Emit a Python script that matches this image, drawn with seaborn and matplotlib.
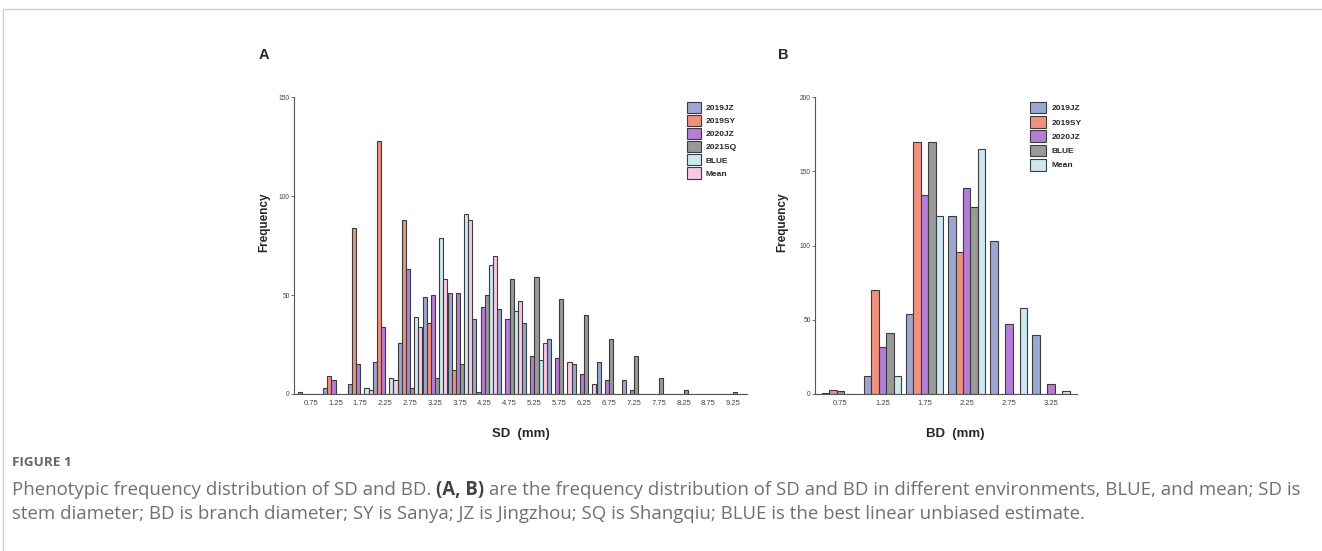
import matplotlib
matplotlib.use("Agg")
import matplotlib.pyplot as plt
import seaborn as sns
import pandas as pd

# ---- data ----
sd_bins = ["0.75", "1.25", "1.75", "2.25", "2.75", "3.25", "3.75", "4.25", "4.75",
           "5.25", "5.75", "6.25", "6.75", "7.25", "7.75", "8.25", "8.75", "9.25"]
sd_2019JZ = [1, 3, 5, 16, 26, 49, 51, 38, 43, 36, 28, 15, 16, 7, 0, 0, 0, 0]
sd_2019SY = [0, 9, 84, 128, 88, 36, 12, 1, 0, 0, 0, 0, 0, 0, 0, 0, 0, 0]
sd_2020JZ = [0, 7, 15, 34, 63, 50, 51, 44, 38, 19, 18, 10, 7, 2, 0, 0, 0, 0]
sd_2021SQ = [0, 0, 0, 0, 3, 8, 15, 50, 58, 59, 48, 40, 28, 19, 8, 2, 0, 1]
sd_BLUE = [0, 0, 3, 8, 39, 79, 91, 65, 42, 17, 0, 0, 0, 0, 0, 0, 0, 0]
sd_Mean = [0, 0, 2, 7, 34, 58, 88, 70, 47, 26, 16, 5, 0, 0, 0, 0, 0, 0]

bd_bins = ["0.75", "1.25", "1.75", "2.25", "2.75", "3.25"]
bd_2019JZ = [1, 12, 54, 120, 103, 40]
bd_2019SY = [3, 70, 170, 96, 0, 0]
bd_2020JZ = [2, 32, 134, 139, 47, 7]
bd_BLUE = [0, 41, 170, 126, 0, 0]
bd_Mean = [0, 12, 120, 165, 58, 2]

c_jz19 = "#9da6d0"
c_sy19 = "#f0907f"
c_jz20 = "#b57dd6"
c_gray = "#999999"
c_cyan = "#cde8ee"
c_pink = "#f7c8e3"


def long_table(bins, series):
    rows = []
    for name, vals in series.items():
        for b, v in zip(bins, vals):
            rows.append({"bin": b, "count": v, "env": name})
    return pd.DataFrame(rows)


sd_series = {"2019JZ": sd_2019JZ, "2019SY": sd_2019SY, "2020JZ": sd_2020JZ,
             "2021SQ": sd_2021SQ, "BLUE": sd_BLUE, "Mean": sd_Mean}
bd_series = {"2019JZ": bd_2019JZ, "2019SY": bd_2019SY, "2020JZ": bd_2020JZ,
             "BLUE": bd_BLUE, "Mean": bd_Mean}
sd_df = long_table(sd_bins, sd_series)
bd_df = long_table(bd_bins, bd_series)

sns.set_style("white")
plt.rcParams["font.family"] = ["Liberation Sans", "DejaVu Sans"]

W, H = 1322, 551
fig = plt.figure(figsize=(W / 100, H / 100), dpi=100)


def px_axes(x0, x1, y0, y1):
    return fig.add_axes([x0 / W, 1 - y1 / H, (x1 - x0) / W, (y1 - y0) / H])


edge = "#3c3c3c"


def draw_panel(ax, df, bins, names, colors, width, ylim, yticks, xlim):
    sns.barplot(data=df, x="bin", y="count", hue="env", order=bins,
                hue_order=names, palette=colors, width=width, gap=0,
                edgecolor=edge, linewidth=0.8, saturation=1, ax=ax)
    ax.set_xlim(*xlim)
    ax.set_ylim(*ylim)
    ax.set_yticks(yticks)
    ax.set_xlabel("")
    ax.set_ylabel("")
    for s in ["top", "right"]:
        ax.spines[s].set_visible(False)
    for s in ["left", "bottom"]:
        ax.spines[s].set_color("#555555")
        ax.spines[s].set_linewidth(0.8)
    ax.tick_params(axis="y", length=2, width=0.6, pad=1, labelsize=4.8,
                   labelcolor="#444444", color="#555555", left=True)
    ax.tick_params(axis="x", length=0, pad=4, labelsize=5.5,
                   labelcolor="#444444")


axA = px_axes(294, 747, 97.3, 394)
draw_panel(axA, sd_df, sd_bins, list(sd_series),
           [c_jz19, c_sy19, c_jz20, c_gray, c_cyan, c_pink],
           0.99, (0, 150), [0, 50, 100, 150], (-0.67, 17.55))
h, l = axA.get_legend_handles_labels()
axA.legend(h, l, loc="upper left", bbox_to_anchor=(686.7 / W, 1 - 101.7 / H),
           bbox_transform=fig.transFigure, frameon=False, borderpad=0,
           borderaxespad=0, handlelength=1.68, handleheight=1.68,
           labelspacing=0.24, handletextpad=0.6,
           prop={"size": 6, "weight": "bold"})

axB = px_axes(815, 1077, 97.3, 394)
draw_panel(axB, bd_df, bd_bins, list(bd_series),
           [c_jz19, c_sy19, c_jz20, c_gray, c_cyan],
           0.886, (0, 200), [0, 50, 100, 150, 200], (-0.603, 5.62))
h, l = axB.get_legend_handles_labels()
axB.legend(h, l, loc="upper left", bbox_to_anchor=(1030 / W, 1 - 101.7 / H),
           bbox_transform=fig.transFigure, frameon=False, borderpad=0,
           borderaxespad=0, handlelength=1.92, handleheight=1.8,
           labelspacing=0.3, handletextpad=0.7,
           prop={"size": 6, "weight": "bold"})

# axis titles and panel letters
def ftext(x, y, s, **kw):
    return fig.text(x / W, 1 - y / H, s, **kw)


ftext(264, 222, "Frequency", rotation=90, ha="center", va="center",
      fontsize=8.5, fontweight="bold")
ftext(782, 222, "Frequency", rotation=90, ha="center", va="center",
      fontsize=8.5, fontweight="bold")
ftext(521, 434, "SD  (mm)", ha="center", va="center", fontsize=9.5,
      fontweight="bold")
ftext(955, 434, "BD  (mm)", ha="center", va="center", fontsize=9.5,
      fontweight="bold")
ftext(264, 55, "A", ha="center", va="center", fontsize=10.5, fontweight="bold")
ftext(783, 55, "B", ha="center", va="center", fontsize=10.5, fontweight="bold")

# page frame
fig.add_artist(plt.Line2D([3 / W, 1], [1 - 9 / H] * 2, transform=fig.transFigure,
                          color="#cfcfcf", lw=1))
fig.add_artist(plt.Line2D([3 / W] * 2, [0, 1 - 9 / H], transform=fig.transFigure,
                          color="#cfcfcf", lw=1))

# caption
cap_font = ["Open Sans", "DejaVu Sans"]
ftext(12, 463, "FIGURE 1", ha="left", va="center", fontsize=9.7,
      fontweight="bold", color="#666666", family=cap_font)
cap_color = "#707070"
cap_size = 13.4
fig.canvas.draw()
renderer = fig.canvas.get_renderer()
t1 = ftext(12, 490, "Phenotypic frequency distribution of SD and BD. ",
           ha="left", va="center", fontsize=cap_size, color=cap_color,
           family=cap_font)
x_next = t1.get_window_extent(renderer).x1
t2 = fig.text(x_next / W, 1 - 490 / H, "(A, B)", ha="left", va="center",
              fontsize=cap_size, color="#444444", fontweight="bold",
              family=cap_font)
x_next = t2.get_window_extent(renderer).x1
fig.text(x_next / W, 1 - 490 / H,
         " are the frequency distribution of SD and BD in different environments, BLUE, and mean; SD is",
         ha="left", va="center", fontsize=cap_size, color=cap_color,
         family=cap_font)
ftext(12, 514, "stem diameter; BD is branch diameter; SY is Sanya; JZ is Jingzhou; "
      "SQ is Shangqiu; BLUE is the best linear unbiased estimate.",
      ha="left", va="center", fontsize=cap_size, color=cap_color,
      family=cap_font)

fig.savefig("out.png", dpi=100)
